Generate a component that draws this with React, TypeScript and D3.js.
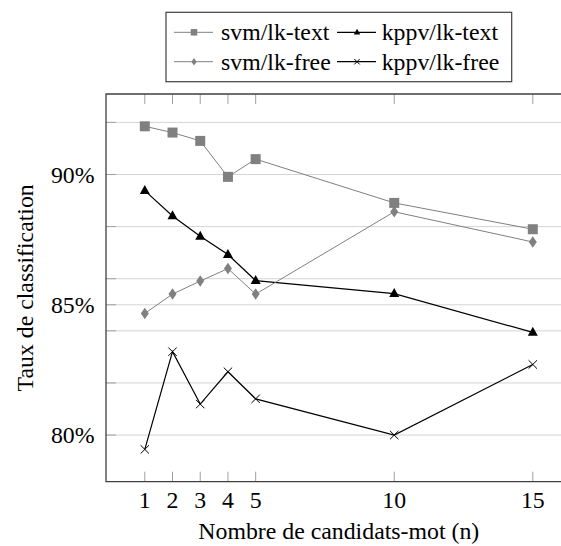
import { useEffect } from "react";
import * as d3 from "d3";

const candidates = [1, 2, 3, 4, 5, 10, 15];
const svmText = [91.85, 91.61, 91.29, 89.91, 90.59, 88.91, 87.9];
const svmFree = [84.67, 85.41, 85.91, 86.39, 85.41, 88.57, 87.41];
const kppvText = [89.38, 88.41, 87.63, 86.93, 85.93, 85.43, 83.94];
const kppvFree = [79.45, 83.2, 81.19, 82.43, 81.39, 80.0, 82.71];
const yGrid = [80, 82, 84, 85, 86, 88, 90, 92];
const yLabels = [80, 85, 90];

type Marker = "square" | "triangle" | "diamond" | "cross";
const series: { name: string; values: number[]; color: string; marker: Marker; lw: number }[] = [
  { name: "svm/lk-text", values: svmText, color: "#808080", marker: "square", lw: 1 },
  { name: "kppv/lk-text", values: kppvText, color: "#000000", marker: "triangle", lw: 1.2 },
  { name: "svm/lk-free", values: svmFree, color: "#808080", marker: "diamond", lw: 1 },
  { name: "kppv/lk-free", values: kppvFree, color: "#000000", marker: "cross", lw: 1.2 },
];

const W = 561;
const H = 546;
const plot = { left: 106, top: 94, right: 571.6, bottom: 481.7 };
const font = "Liberation Serif";
const fs = 23.8;

function MarkerShape({ kind, x, y, s, color }: { kind: Marker; x: number; y: number; s: number; color: string }) {
  if (kind === "square")
    return <rect x={x - s / 2} y={y - s / 2} width={s} height={s} fill={color} />;
  if (kind === "triangle") {
    const h = s * 0.9;
    return (
      <path
        d={`M${x},${y - h * 0.62} L${x + s / 2},${y + h * 0.38} L${x - s / 2},${y + h * 0.38} Z`}
        fill={color}
      />
    );
  }
  if (kind === "diamond") {
    const w = s * 0.8;
    const h = s * 1.15;
    return (
      <path d={`M${x},${y - h / 2} L${x + w / 2},${y} L${x},${y + h / 2} L${x - w / 2},${y} Z`} fill={color} />
    );
  }
  const c = s * 0.42;
  return (
    <path
      d={`M${x - c},${y - c} L${x + c},${y + c} M${x - c},${y + c} L${x + c},${y - c}`}
      stroke={color}
      strokeWidth={1}
      fill="none"
    />
  );
}

export default function App() {
  useEffect(() => {
    document.body.style.margin = "0";
  }, []);

  const allY = series.flatMap((s) => s.values);
  const [yMin, yMax] = d3.extent(allY) as [number, number];
  const yPad = (yMax - yMin) * 0.1;
  const xPad = (15 - 1) * 0.1;

  const x = d3.scaleLinear().domain([1 - xPad, 15 + xPad]).range([plot.left, plot.right]);
  const y = d3.scaleLinear().domain([yMin - yPad, yMax + yPad]).range([plot.bottom, plot.top]);

  const line = d3
    .line<number>()
    .x((_, i) => x(candidates[i]))
    .y((d) => y(d));

  const tickLen = 10;
  const edge = W; // the plot runs past the picture's right edge

  return (
    <svg width={W} height={H} style={{ display: "block" }}>
      <rect width={W} height={H} fill="#ffffff" />
      {/* grid */}
      {yGrid.map((v) => (
        <line key={"g" + v} x1={plot.left} x2={edge} y1={y(v)} y2={y(v)} stroke="#d4d4d4" strokeWidth={1} />
      ))}
      {/* ticks */}
      {yGrid.map((v) => (
        <line key={"yt" + v} x1={plot.left} x2={plot.left + tickLen} y1={y(v)} y2={y(v)} stroke="#a0a0a0" strokeWidth={1} />
      ))}
      {candidates.map((c) => (
        <g key={"xt" + c}>
          <line x1={x(c)} x2={x(c)} y1={plot.bottom} y2={plot.bottom - tickLen} stroke="#a0a0a0" strokeWidth={1} />
          <line x1={x(c)} x2={x(c)} y1={plot.top} y2={plot.top + tickLen} stroke="#a0a0a0" strokeWidth={1} />
        </g>
      ))}
      {/* series */}
      {series.map((s) => (
        <g key={s.name}>
          <path d={line(s.values) ?? ""} fill="none" stroke={s.color} strokeWidth={s.lw} />
          {s.values.map((v, i) => (
            <MarkerShape key={i} kind={s.marker} x={x(candidates[i])} y={y(v)} s={10} color={s.color} />
          ))}
        </g>
      ))}
      {/* frame: left, top, bottom */}
      <path
        d={`M${edge},${plot.top} H${plot.left} V${plot.bottom} H${edge}`}
        fill="none"
        stroke="#404040"
        strokeWidth={1.3}
      />
      {/* tick labels */}
      {candidates.map((c) => (
        <text key={"xl" + c} x={x(c)} y={508} textAnchor="middle" fontSize={fs} fontFamily={font} fill="#000">
          {c}
        </text>
      ))}
      {yLabels.map((v) => (
        <text key={"yl" + v} x={94.5} y={y(v) + 8} textAnchor="end" fontSize={fs} fontFamily={font} fill="#000">
          {v}%
        </text>
      ))}
      {/* axis titles */}
      <text x={(plot.left + plot.right) / 2} y={539} textAnchor="middle" fontSize={fs} fontFamily={font} fill="#000">
        Nombre de candidats-mot (n)
      </text>
      <text
        transform={`translate(33,${(plot.top + plot.bottom) / 2}) rotate(-90)`}
        textAnchor="middle"
        fontSize={fs}
        fontFamily={font}
        fill="#000"
      >
        Taux de classification
      </text>
      {/* legend */}
      <rect x={166} y={12.3} width={345.7} height={69.4} fill="#fff" stroke="#404040" strokeWidth={1.2} />
      {series.map((s, i) => {
        const col = i % 2;
        const row = Math.floor(i / 2);
        const lx = col === 0 ? 174 : 337;
        const ly = row === 0 ? 32.3 : 61.7;
        const tx = col === 0 ? 221 : 381.7;
        return (
          <g key={"lg" + s.name}>
            <line x1={lx} x2={lx + 39} y1={ly} y2={ly} stroke={s.color} strokeWidth={s.lw} />
            <MarkerShape kind={s.marker} x={lx + 20} y={ly} s={6.5} color={s.color} />
            <text x={tx} y={ly + 8} fontSize={fs} fontFamily={font} fill="#000">
              {s.name}
            </text>
          </g>
        );
      })}
    </svg>
  );
}
